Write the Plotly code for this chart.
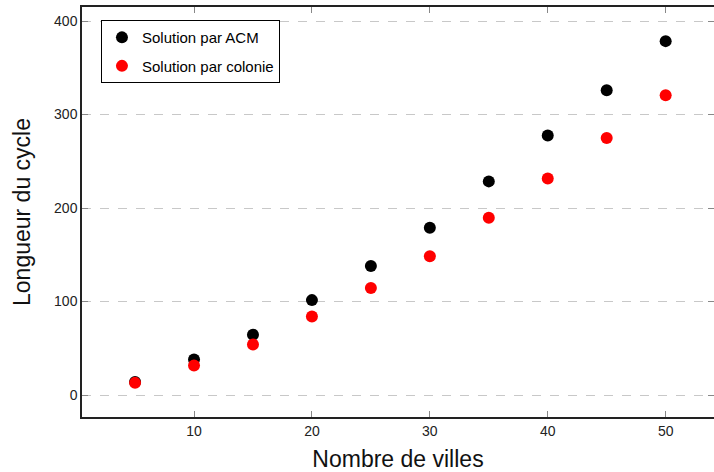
import plotly.graph_objects as go

villes = [5, 10, 15, 20, 25, 30, 35, 40, 45, 50]
acm = [14, 38, 64.5, 101.5, 138, 179, 228.5, 277.5, 326, 378.5]
colonie = [13, 31.5, 54, 84, 114.5, 148.5, 189.5, 231.5, 275, 320.5]
y_ticks = [0, 100, 200, 300, 400]
x_ticks = [10, 20, 30, 40, 50]

FONT = "Liberation Sans"

fig = go.Figure()
fig.add_trace(go.Scatter(x=villes, y=acm, mode="markers", name="Solution par ACM",
                         legendgroup="a",
                         marker=dict(color="black", size=12)))
fig.add_trace(go.Scatter(x=villes, y=colonie, mode="markers", name="Solution par colonie",
                         legendgroup="b",
                         marker=dict(color="#ff0000", size=12)))

fig.update_layout(
    width=714, height=472,
    margin=dict(l=82, r=0, t=7, b=55, autoexpand=False),
    plot_bgcolor="white", paper_bgcolor="white",
    font=dict(family=FONT, color="#222", size=14),
    legend=dict(x=0.030, y=0.968, xanchor="left", yanchor="top",
                bordercolor="black", borderwidth=1, bgcolor="white",
                font=dict(size=15, color="black"), itemwidth=30,
                tracegroupgap=6),
    showlegend=True,
)
fig.update_xaxes(
    range=[0.5, 54.1], tickvals=x_ticks, ticks="inside", ticklen=6,
    tickcolor="#888", showline=True, linecolor="#222", linewidth=1.5,
    mirror="ticks", showgrid=False, zeroline=False, automargin=False,
    title=dict(text="Nombre de villes", font=dict(size=23, color="#111"), standoff=16),
    tickfont=dict(size=14, color="#222"),
)
fig.update_yaxes(
    range=[-23.5, 415], tickvals=y_ticks, ticks="inside", ticklen=6,
    tickcolor="#888", showline=True, linecolor="#222", linewidth=1.5,
    mirror="ticks", showgrid=True, gridcolor="#c8c8c8", griddash="dash",
    gridwidth=1, zeroline=False, automargin=False,
    title=dict(text="Longueur du cycle", font=dict(size=23, color="#111"), standoff=17),
    tickfont=dict(size=14, color="#222"),
)

fig.write_html("out.html", config={"displayModeBar": False},
               post_script="document.body.style.margin='0';")
